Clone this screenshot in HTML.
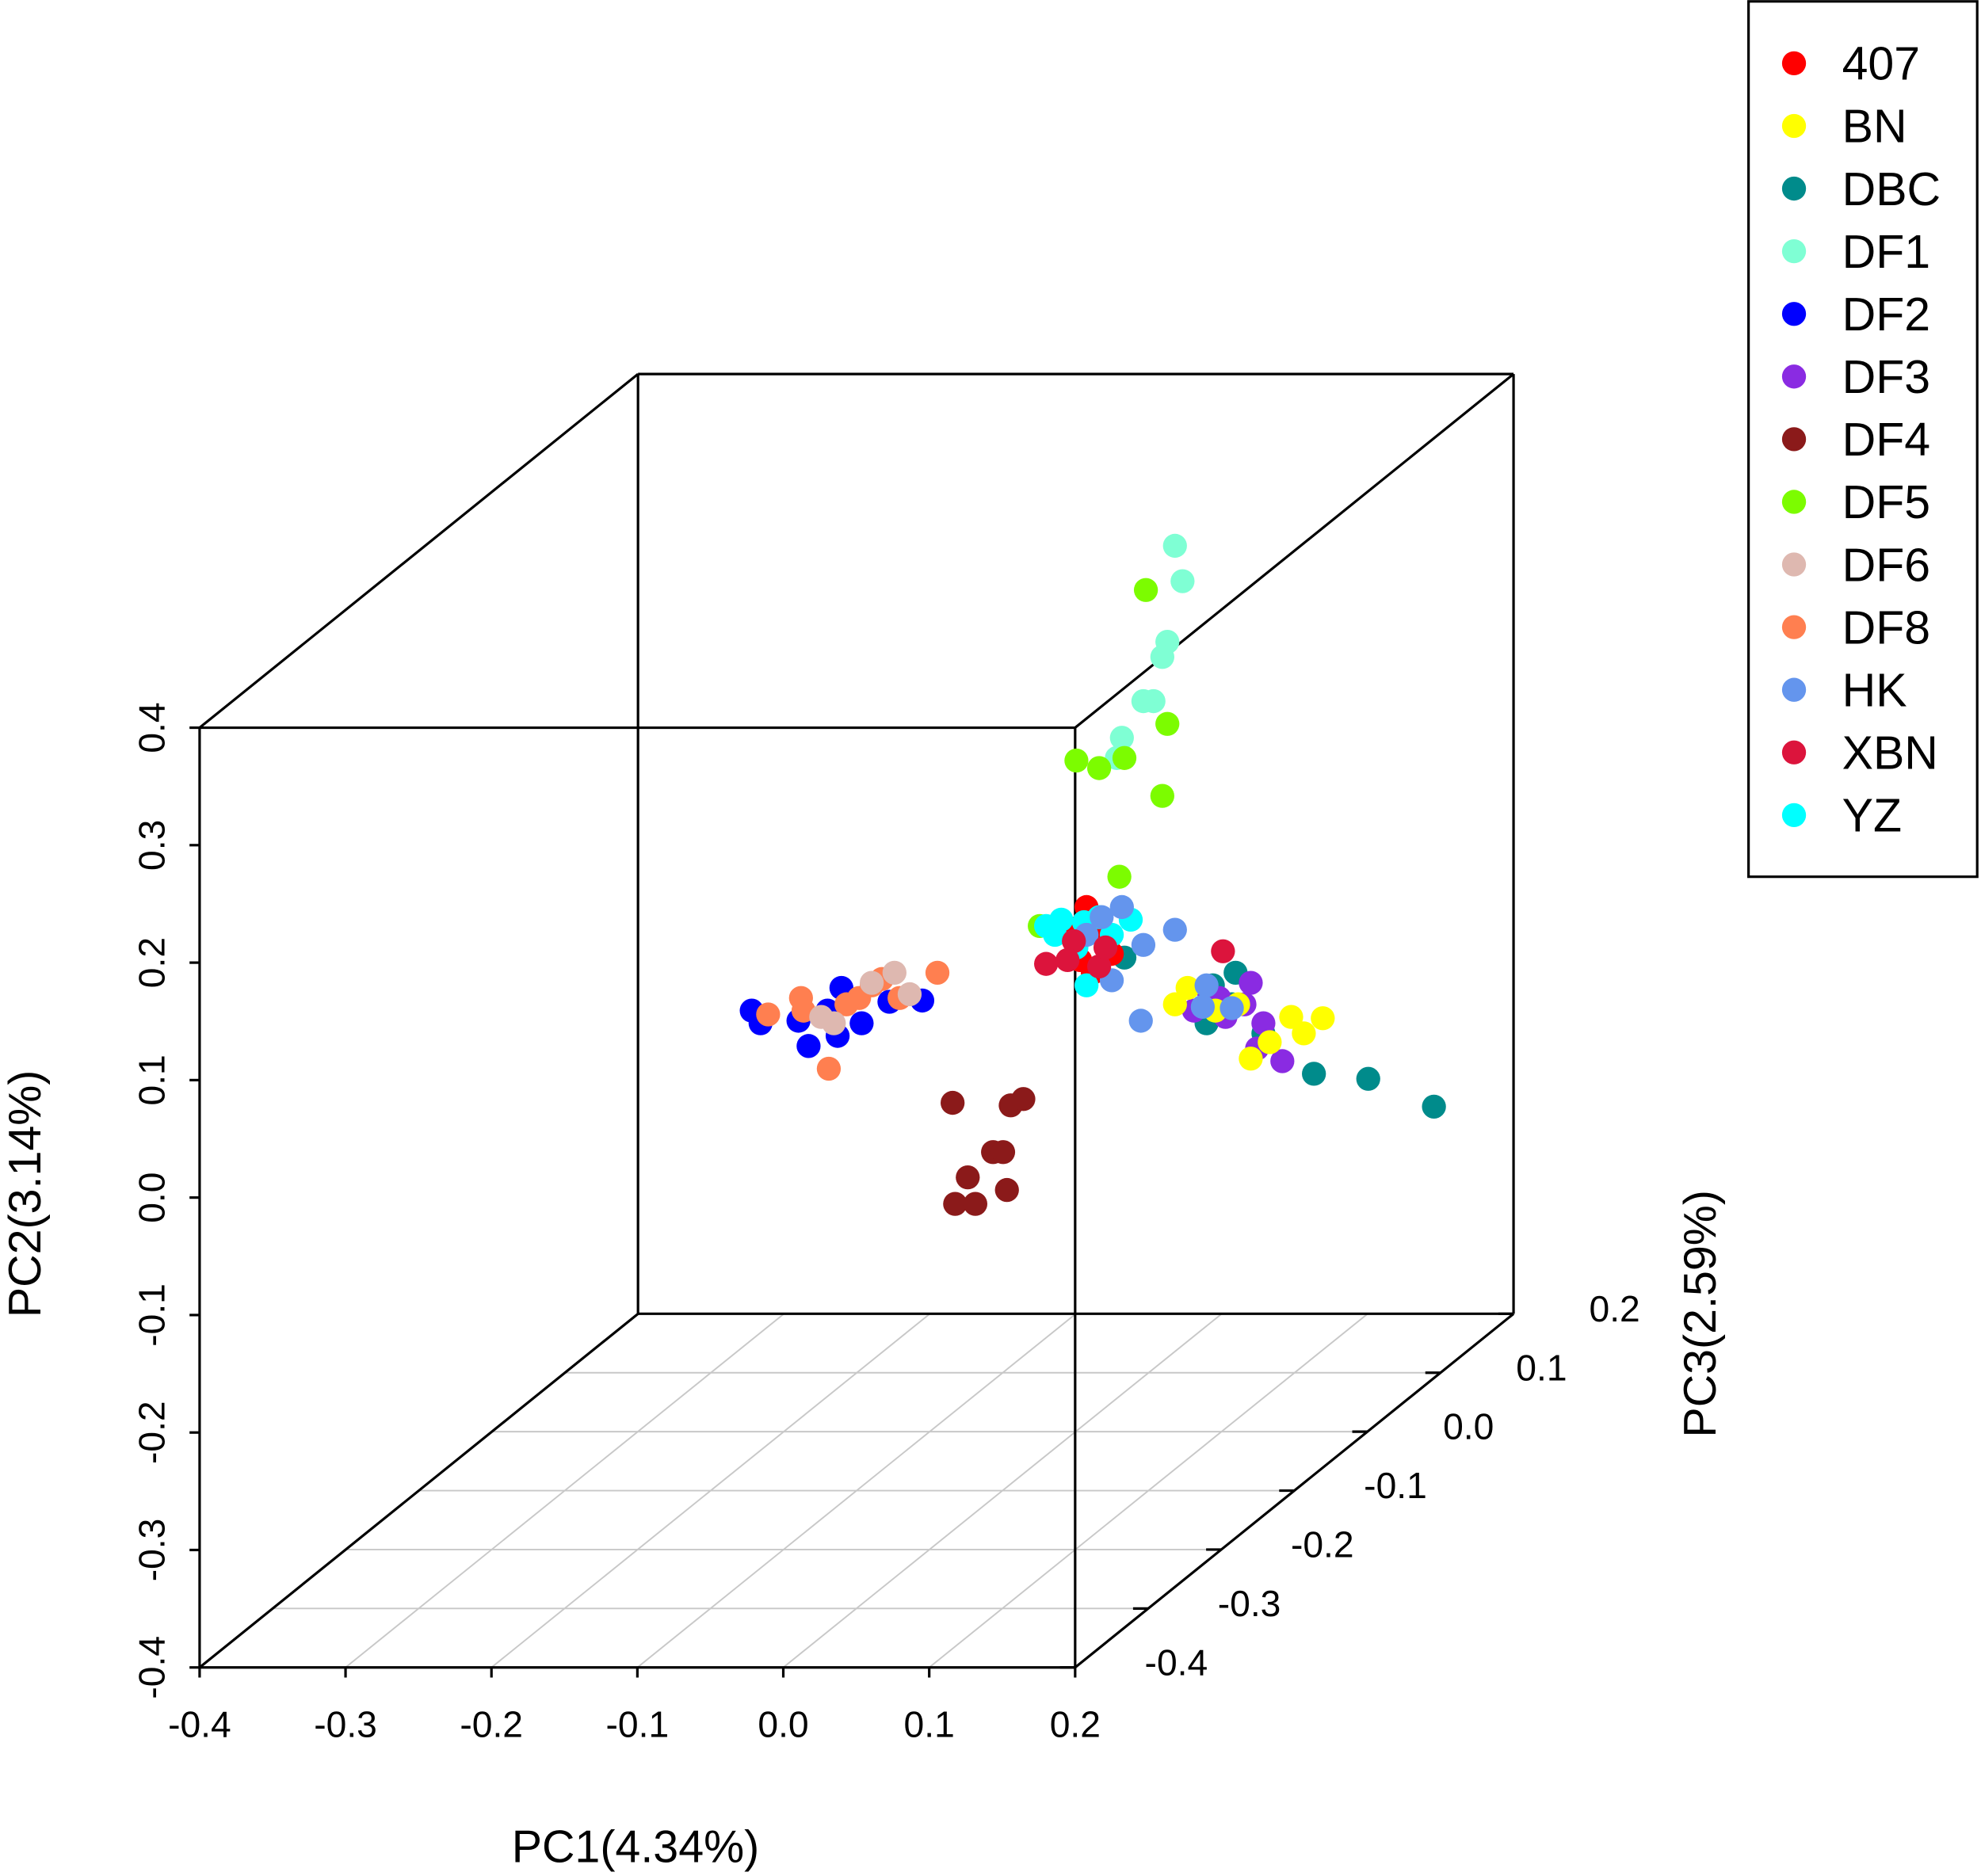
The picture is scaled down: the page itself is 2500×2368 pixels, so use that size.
<!DOCTYPE html>
<html><head><meta charset="utf-8"><style>
html,body{margin:0;padding:0;background:#fff;}
svg{display:block;font-family:"Liberation Sans",sans-serif;}
</style></head><body>
<svg id="chart" width="2500" height="2368" viewBox="0 0 1568 1485" xmlns="http://www.w3.org/2000/svg">
<g id="grid"></g>
<g id="box"></g>
<g id="axes"></g>
<g id="pts"></g>
<g id="legend"></g>
</svg>
<script>
const pc1Ticks=[-0.4,-0.3,-0.2,-0.1,0.0,0.1,0.2];
const pc2Ticks=[-0.4,-0.3,-0.2,-0.1,0.0,0.1,0.2,0.3,0.4];
const pc3Ticks=[-0.4,-0.3,-0.2,-0.1,0.0,0.1,0.2];
const groups=["407","BN","DBC","DF1","DF2","DF3","DF4","DF5","DF6","DF8","HK","XBN","YZ"];
const colors=["#ff0000","#ffff00","#008b8b","#7fffd4","#0000ff","#8a2be2","#8b1a1a","#7cfc00","#deb8b0","#ff7f50","#6495ed","#dc143c","#00ffff"];
const pts407=[[860,718],[848,735],[872,738],[855,760],[880,755],[865,770]];
const ptsBN=[[940,782],[930,795],[980,795],[1022,805],[1047,806],[1032,818],[990,838],[1005,825],[962,800]];
const ptsDBC=[[890,758],[978,770],[955,810],[1000,818],[1040,850],[1083,854],[1135,876],[975,795],[960,780]];
const ptsDF1=[[930,432],[936,460],[924,508],[920,520],[913,555],[905,555],[888,584],[884,600]];
const ptsDF2=[[595,800],[602,810],[632,808],[640,828],[663,820],[666,782],[682,810],[704,793],[730,792],[655,800]];
const ptsDF3=[[955,782],[990,778],[985,795],[970,805],[1000,810],[995,830],[1015,840],[945,800],[965,790]];
const ptsDF4=[[754,873],[800,875],[810,870],[786,912],[794,912],[766,932],[797,942],[756,953],[772,953]];
const ptsDF5=[[907,467],[924,573],[852,602],[870,608],[890,600],[920,630],[886,694],[823,733]];
const ptsDF6=[[650,805],[690,778],[708,770],[660,810],[720,787]];
const ptsDF8=[[608,803],[634,790],[636,800],[656,846],[680,790],[698,775],[712,790],[742,770],[690,780],[670,795]];
const ptsHK=[[872,726],[888,718],[905,748],[930,736],[880,776],[903,808],[955,780],[952,797],[975,798],[860,740]];
const ptsXBN=[[828,763],[850,745],[870,765],[968,753],[845,760],[875,750]];
const ptsYZ=[[828,733],[840,728],[858,730],[895,728],[860,780],[880,740],[852,750],[835,740],[870,726]];
const drawOrder=[ptsDF2,ptsDF8,ptsDF6,ptsDF4,ptsDF1,ptsDF5,ptsDBC,ptsDF3,ptsBN,pts407,ptsYZ,ptsHK,ptsXBN];
const drawColor=[4,9,8,6,3,7,2,5,1,0,12,10,11];
const drawName=["DF2","DF8","DF6","DF4","DF1","DF5","DBC","DF3","BN","407","YZ","HK","XBN"];

const NS="http://www.w3.org/2000/svg";
function mk(t,a,p){const e=document.createElementNS(NS,t);for(const k in a)e.setAttribute(k,a[k]);p.appendChild(e);return e;}
const X0=158,X1=851,Y0=576,Y1=1320,DX=347,DY=-280;
const zMin=-0.4,zMax=0.2;
function xs(v){return X0+(v+0.4)/0.6*(X1-X0);}
function ys(v){return Y1-(v+0.4)/0.8*(Y1-Y0);}
function zf(v){return (v-zMin)/(zMax-zMin);}
function proj(a,b,c){const f=zf(c);return [xs(a)+f*DX,ys(b)+f*DY];}
const grid=document.getElementById('grid'),box=document.getElementById('box'),axes=document.getElementById('axes'),pg=document.getElementById('pts'),lg=document.getElementById('legend');
pc1Ticks.forEach(t=>{const a=proj(t,-0.4,zMin),b=proj(t,-0.4,zMax);const l=mk('line',{x1:a[0],y1:a[1],x2:b[0],y2:b[1],stroke:'#c8c8c8','stroke-width':1.2},grid);

});
pc3Ticks.forEach(t=>{const a=proj(-0.4,-0.4,t),b=proj(0.2,-0.4,t);const l=mk('line',{x1:a[0],y1:a[1],x2:b[0],y2:b[1],stroke:'#c8c8c8','stroke-width':1.2},grid);

});
const segs=[[X0,Y0,X1,Y0],[X1,Y0,X1,Y1],[X1,Y1,X0,Y1],[X0,Y1,X0,Y0],
[X0+DX,Y0+DY,X1+DX,Y0+DY],[X1+DX,Y0+DY,X1+DX,Y1+DY],[X0+DX,Y1+DY,X1+DX,Y1+DY],[X0+DX,Y0+DY,X0+DX,Y1+DY],
[X0,Y0,X0+DX,Y0+DY],[X1,Y0,X1+DX,Y0+DY],[X1,Y1,X1+DX,Y1+DY],[X0,Y1,X0+DX,Y1+DY]];
segs.forEach(s=>{const l=mk('line',{x1:s[0],y1:s[1],x2:s[2],y2:s[3],stroke:'#000','stroke-width':2},box);

});
pc1Ticks.forEach(t=>{const x=xs(t);mk('line',{x1:x,y1:Y1,x2:x,y2:Y1+8,stroke:'#000','stroke-width':2},axes);
const tx=mk('text',{x:x,y:1375,'font-size':29,'text-anchor':'middle'},axes);tx.textContent=t.toFixed(1);

});
pc2Ticks.forEach(t=>{const y=ys(t);mk('line',{x1:X0,y1:y,x2:X0-8,y2:y,stroke:'#000','stroke-width':2},axes);
const tx=mk('text',{x:0,y:0,'font-size':29,'text-anchor':'middle',transform:`translate(130,${y}) rotate(-90)`},axes);tx.textContent=t.toFixed(1);

});
pc3Ticks.forEach(t=>{const p=proj(0.2,-0.4,t);mk('line',{x1:p[0],y1:p[1],x2:p[0]-12,y2:p[1],stroke:'#000','stroke-width':2},axes);
const tx=mk('text',{x:p[0]+80,y:p[1]+6,'font-size':29,'text-anchor':'middle'},axes);tx.textContent=t.toFixed(1);

});
let t1=mk('text',{x:503,y:1474,'font-size':36,'text-anchor':'middle'},axes);t1.textContent='PC1(4.34%)';

let t2=mk('text',{x:0,y:0,'font-size':36,'text-anchor':'middle',transform:'translate(32,945) rotate(-90)'},axes);t2.textContent='PC2(3.14%)';

let t3=mk('text',{x:0,y:0,'font-size':36,'text-anchor':'middle',transform:'translate(1358,1040) rotate(-90)'},axes);t3.textContent='PC3(2.59%)';

drawOrder.forEach((arr,gi)=>{arr.forEach(p=>{const a=-0.4+(p[0]-X0)/(X1-X0)*0.6,b=0.4-(p[1]-Y0)/(Y1-Y0)*0.8;const q=proj(a,b,zMin);
const c=mk('circle',{cx:q[0],cy:q[1],r:9.5,fill:colors[drawColor[gi]]},pg);

});});
const r=mk('rect',{x:1384,y:1,width:181,height:693,fill:'#fff',stroke:'#000','stroke-width':2},lg);

groups.forEach((g,i)=>{const y=50+i*49.6;const c=mk('circle',{cx:1420,cy:y,r:9.5,fill:colors[i]},lg);

const t=mk('text',{x:1458,y:y+13,'font-size':37},lg);t.textContent=g;
});
</script>
</body></html>
